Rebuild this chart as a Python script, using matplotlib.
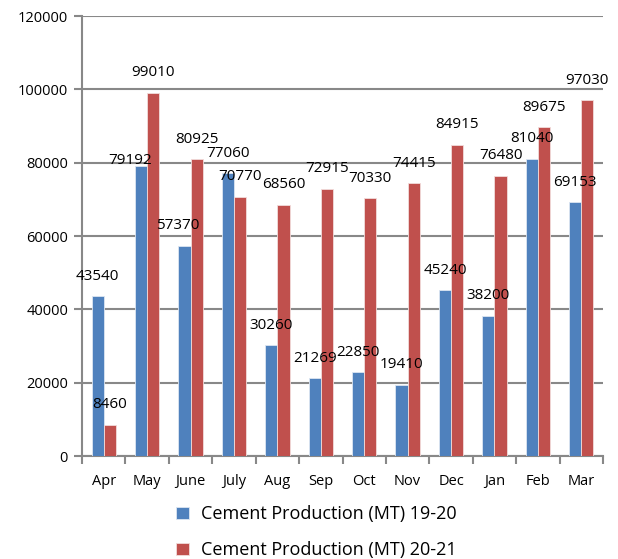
import matplotlib.pyplot as plt
import numpy as np

plt.rcParams['font.family'] = ['Open Sans', 'DejaVu Sans']

months = ['Apr', 'May', 'June', 'July', 'Aug', 'Sep', 'Oct', 'Nov', 'Dec', 'Jan', 'Feb', 'Mar']
prod_1920 = [43540, 79192, 57370, 77060, 30260, 21269, 22850, 19410, 45240, 38200, 81040, 69153]
prod_2021 = [8460, 99010, 80925, 70770, 68560, 72915, 70330, 74415, 84915, 76480, 89675, 97030]
yticks = [0, 20000, 40000, 60000, 80000, 100000, 120000]

# label nudges (points) where excel moved labels to avoid overlap
nudge_1920 = {1: (-8, -11), 2: (-5, 0)}

blue = '#4F81BD'
red = '#C0504D'
gray = '#888888'

fig = plt.figure(figsize=(6.18, 5.59), dpi=100)
ax = fig.add_axes([82/618, 1-456/559, (603-82)/618, 440/559])

x = np.arange(len(months))
w = 0.28
b1 = ax.bar(x - w/2, prod_1920, w, color=blue, edgecolor='#DCE6F2', linewidth=0.6,
            label='Cement Production (MT) 19-20', zorder=3)
b2 = ax.bar(x + w/2, prod_2021, w, color=red, edgecolor='#F2DCDB', linewidth=0.6,
            label='Cement Production (MT) 20-21', zorder=3)

for i, v in enumerate(prod_1920):
    dx, dy = nudge_1920.get(i, (0, 0))
    ax.annotate(str(v), (x[i] - w/2, v), xytext=(dx, 9 + dy), textcoords='offset points',
                ha='center', va='bottom', fontsize=11, zorder=4)
for i, v in enumerate(prod_2021):
    ax.annotate(str(v), (x[i] + w/2, v), xytext=(0, 9), textcoords='offset points',
                ha='center', va='bottom', fontsize=11, zorder=4)

ax.set_xlim(-0.5, len(months) - 0.5)
ax.set_ylim(0, 120000)
ax.set_yticks(yticks)
ax.set_yticklabels([str(t) for t in yticks], fontsize=10.5)
ax.set_xticks(x)
ax.set_xticklabels(months, fontsize=10.5)
ax.set_xticks(np.arange(-0.5, len(months)), minor=True)
ax.tick_params(axis='x', which='major', length=0, pad=13)
ax.tick_params(axis='x', which='minor', length=6, width=1.5, color=gray)
ax.tick_params(axis='y', length=6, width=1.5, color=gray, pad=4)

ax.yaxis.grid(True, color=gray, linewidth=1.5, zorder=0)
ax.set_axisbelow(True)
for s in ['top', 'right']:
    ax.spines[s].set_visible(False)
for s in ['left', 'bottom']:
    ax.spines[s].set_color(gray)
    ax.spines[s].set_linewidth(1.5)

fig.legend(handles=[b1, b2], loc='center', bbox_to_anchor=(0.512, 0.048), ncol=1,
           frameon=False, fontsize=13, handlelength=0.7, handleheight=0.7,
           labelspacing=1.0, handletextpad=0.7)

fig.savefig('out.png', dpi=100)
